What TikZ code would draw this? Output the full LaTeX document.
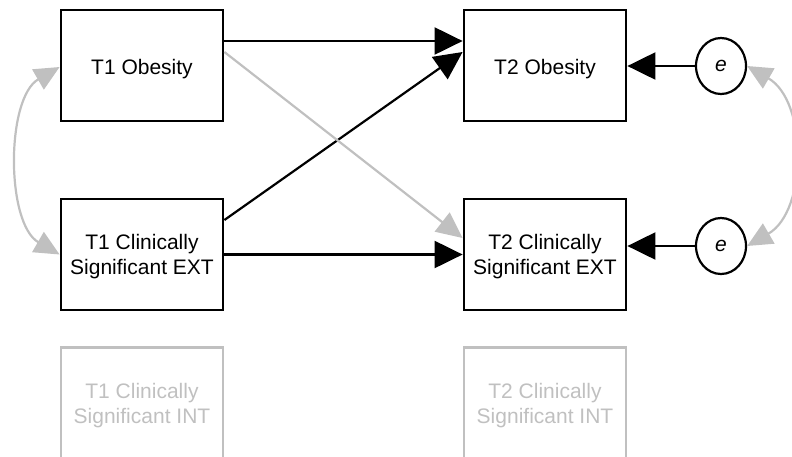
\documentclass[tikz,border=0pt]{standalone}
\usepackage{fontspec}
\setmainfont{Liberation Sans}
\usetikzlibrary{arrows.meta,shapes.geometric}
\definecolor{lightgrey}{RGB}{192,192,192}
\tikzset{
  varbox/.style={draw, line width=2.8pt, rectangle, minimum width=162pt, minimum height=111pt,
    inner sep=0pt},
  ghostbox/.style={varbox, draw=lightgrey},
  boxtext/.style={align=center, inner sep=0pt, font=\fontsize{21}{25}\selectfont},
  ghosttext/.style={boxtext, text=lightgrey},
  errnode/.style={draw, line width=2.2pt, ellipse, minimum width=50pt, minimum height=56pt,
    inner sep=0pt, font=\fontsize{21}{25}\selectfont\itshape},
  path/.style={line width=2.2pt, -{Triangle[length=28pt,width=27pt]}},
  greypath/.style={path, draw=lightgrey, -{Triangle[length=26pt,width=24pt]}},
  covpath/.style={line width=2.2pt, draw=lightgrey,
    {Triangle[length=25pt,width=23pt]}-{Triangle[length=25pt,width=23pt]}}
}
\begin{document}
\begin{tikzpicture}[x=1pt,y=-1pt]
  \useasboundingbox (0,0) rectangle (792,456);
  \clip (0,0) rectangle (792,456);

  % observed variables
  \node[varbox] (t1o) at (142,65.5) {};
  \node[varbox] (t2o) at (545,65.5) {};
  \node[varbox] (t1x) at (142,254.5) {};
  \node[varbox] (t2x) at (545,254.5) {};
  \node[ghostbox] (t1i) at (142,403) {};
  \node[ghostbox] (t2i) at (545,403) {};

  \node[boxtext] (t1o-txt) at ([yshift=-3.5pt]t1o.center) {T1 Obesity};
  \node[boxtext] (t2o-txt) at ([yshift=-3.5pt]t2o.center) {T2 Obesity};
  \node[boxtext] (t1x-txt) at ([yshift=-2.5pt]t1x.center) {T1 Clinically\\Significant EXT};
  \node[boxtext] (t2x-txt) at ([yshift=-2.5pt]t2x.center) {T2 Clinically\\Significant EXT};
  \node[ghosttext] (t1i-txt) at ([yshift=-2.5pt]t1i.center) {T1 Clinically\\Significant INT};
  \node[ghosttext] (t2i-txt) at ([yshift=-2.5pt]t2i.center) {T2 Clinically\\Significant INT};

  % residuals
  \node[errnode] (e1) at (721,66) {e};
  \node[errnode] (e2) at (721,246) {e};

  % regression paths
  \draw[path] ([yshift=24.5pt]t1o.east) -- ([yshift=24.5pt]t2o.west);
  \draw[path] ([yshift=34.5pt]t1x.east) -- ([yshift=13.5pt]t2o.west);
  \draw[greypath] ([yshift=13.5pt]t1o.east) -- ([yshift=16.5pt]t2x.west);
  \draw[path] (t1x.east) -- (t2x.west);
  \draw[path] (e1.west) -- (e1.west -| t2o.east);
  \draw[path] (e2.west) -- (e2.west -| t2x.east);

  % covariances
  \draw[covpath] ([yshift=-1.5pt]t1o.west) to[out=210,in=150,looseness=0.85] ([yshift=0pt]t1x.west);
  \draw[covpath] (e1.east) to[out=-30,in=30] (e2.east);
\end{tikzpicture}
\end{document}
